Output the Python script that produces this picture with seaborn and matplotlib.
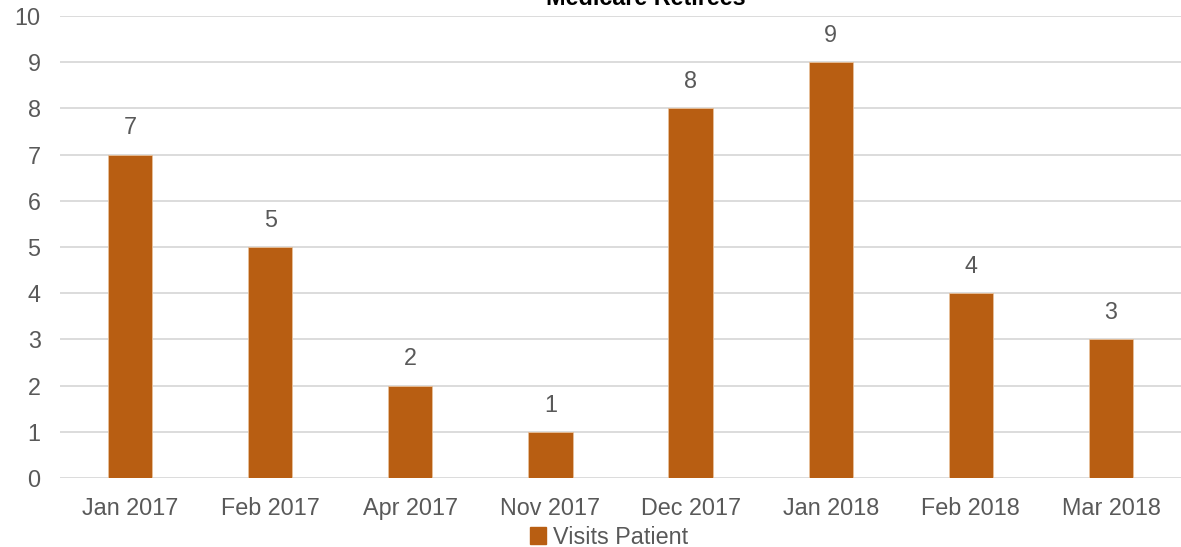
import matplotlib
matplotlib.use("Agg")
import matplotlib.pyplot as plt
import seaborn as sns
import pandas as pd
from matplotlib.patches import Patch

months = ["Jan 2017", "Feb 2017", "Apr 2017", "Nov 2017", "Dec 2017", "Jan 2018", "Feb 2018", "Mar 2018"]
visits = [7, 5, 2, 1, 8, 9, 4, 3]
yticks = list(range(0, 11))
title = "Medicare Retirees"
series_name = "Visits Patient"

sns.set_theme(style="white")
plt.rcParams['font.family'] = ['Liberation Sans', 'DejaVu Sans']

bar_color = "#B85E12"
text_color = "#595959"
grid_color = "#D9D9D9"

df = pd.DataFrame({"Month": months, "Visits": visits, "Series": series_name})

fig = plt.figure(figsize=(11.81, 5.47), dpi=100)
ax = fig.add_axes([60 / 1181, 1 - 478 / 547, 1 - 60 / 1181, (478 - 16) / 547])

sns.barplot(data=df, x="Month", y="Visits", hue="Series", palette=[bar_color],
            saturation=1, width=0.315, ax=ax, legend=False,
            edgecolor="#E8C09A", linewidth=0.6)

ax.set_ylim(0, 10)
ax.set_xlim(-0.5, len(months) - 0.5)
ax.set_yticks(yticks)
ax.yaxis.grid(True, color=grid_color, linewidth=1.3)
ax.set_axisbelow(True)
for s in ax.spines.values():
    s.set_visible(False)
ax.set_xlabel("")
ax.set_ylabel("")
ax.tick_params(axis="both", length=0, labelsize=16.8, colors=text_color)
ax.tick_params(axis="x", pad=14)
ax.tick_params(axis="y", pad=14)

for p, v in zip(ax.patches, visits):
    ax.annotate(str(v), (p.get_x() + p.get_width() / 2, p.get_height()),
                xytext=(0, 11), textcoords="offset points", ha="center", va="bottom",
                fontsize=16.8, color=text_color)

fig.text(646 / 1181, 1 - 5 / 547, title, ha="center", va="baseline",
         fontsize=16.8, fontweight="bold", color="black")

handles = [Patch(facecolor=bar_color, edgecolor=bar_color, label=series_name)]
fig.legend(handles=handles, loc="center", bbox_to_anchor=(609 / 1181, 1 - 537 / 547),
           frameon=False, fontsize=16.8, labelcolor=text_color, handlelength=0.7,
           handleheight=0.7, handletextpad=0.3, borderpad=0)

fig.savefig("out.png", dpi=100)
